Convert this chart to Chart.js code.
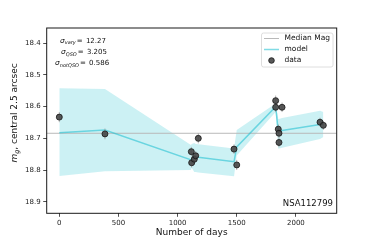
<!DOCTYPE html>
<html><head><meta charset="utf-8">
<script src="https://cdn.jsdelivr.net/npm/chart.js@4.4.1/dist/chart.umd.min.js"></script>
<style>html,body{margin:0;padding:0;background:#fff;}canvas{display:block;}</style>
</head><body>
<canvas id="c" width="374" height="240"></canvas>
<script>
// ---- data ----
const days   = [0, 386, 1116, 1119, 1141, 1153, 1175, 1477, 1500, 1829, 1829, 1883, 1851, 1857, 1857, 2204, 2232];
const mags   = [18.633, 18.686, 18.742, 18.777, 18.766, 18.755, 18.700, 18.734, 18.784, 18.581, 18.602, 18.602, 18.671, 18.684, 18.713, 18.649, 18.659];
const magErr = [0.016, 0.017, 0.015, 0.015, 0.015, 0.015, 0.016, 0.015, 0.016, 0.016, 0.015, 0.015, 0.015, 0.015, 0.015, 0.014, 0.014];

const modelDays = [0, 386, 1113, 1119, 1141, 1153, 1175, 1477, 1500, 1829, 1851, 1857, 1883, 2204, 2232];
const modelMag  = [18.682, 18.674, 18.768, 18.771, 18.756, 18.757, 18.760, 18.774, 18.727, 18.600, 18.678, 18.677, 18.675, 18.656, 18.656];
const bandLow   = [18.542, 18.544, 18.721, 18.718, 18.715, 18.718, 18.719, 18.732, 18.674, 18.590, 18.637, 18.639, 18.636, 18.613, 18.617];
const bandHigh  = [18.819, 18.804, 18.800, 18.793, 18.806, 18.806, 18.808, 18.820, 18.754, 18.617, 18.733, 18.733, 18.730, 18.702, 18.696];

const medianMag = 18.684;
const xTicks = [0, 500, 1000, 1500, 2000];
const yTicks = [18.4, 18.5, 18.6, 18.7, 18.8, 18.9];
const xRange = [-106.5, 2345];
const yRange = [18.3517, 18.9366];

const sigmaNames  = ['vary', 'QSO', 'notQSO'];
const sigmaValues = ['12.27', '3.205', '0.586'];
const objectName = 'NSA112799';
const legendLabels = ['Median Mag', 'model', 'data'];

// ---- styles ----
const FONT = "'DejaVu Sans'";
const bandColor = 'rgba(23,190,207,0.22)';
const modelColor = 'rgba(23,190,207,0.55)';
const medianColor = '#b9b9b9';
const pointFill = 'rgba(70,70,70,0.9)';
const pointEdge = '#151515';

const xy = (xs, ys) => xs.map((x, i) => ({x: x, y: ys[i]}));

const extras = {
  id: 'extras',
  beforeDatasetDraw(chart, args) {
    if (args.index !== 4) return;
    const {ctx, scales: {x, y}} = chart;
    ctx.save();
    ctx.strokeStyle = 'rgba(150,150,150,0.7)';
    ctx.lineWidth = 1;
    days.forEach((d, i) => {
      const px = x.getPixelForValue(d);
      ctx.beginPath();
      ctx.moveTo(px, y.getPixelForValue(mags[i] - magErr[i]));
      ctx.lineTo(px, y.getPixelForValue(mags[i] + magErr[i]));
      ctx.stroke();
    });
    ctx.restore();
  },
  afterDraw(chart) {
    const {ctx, chartArea: a} = chart;
    ctx.save();
    // spines
    ctx.strokeStyle = '#1a1a1a';
    ctx.lineWidth = 1;
    ctx.strokeRect(a.left, a.top, a.right - a.left, a.bottom - a.top);

    // sigma annotations
    ctx.fillStyle = '#111';
    ctx.textBaseline = 'alphabetic';
    const sx = [60, 61, 55];
    const sy = [42.5, 54, 65];
    sigmaNames.forEach((n, i) => {
      let x0 = sx[i];
      ctx.font = 'italic 7.5px ' + FONT;
      ctx.fillText('σ', x0, sy[i]);
      x0 += ctx.measureText('σ').width;
      ctx.font = 'italic 5px ' + FONT;
      ctx.fillText(n, x0, sy[i] + 1.8);
      x0 += ctx.measureText(n).width + 1;
      ctx.font = '7px ' + FONT;
      ctx.fillText('= ', x0, sy[i]);
      x0 += ctx.measureText('= ').width + 1;
      ctx.fillText(sigmaValues[i], x0, sy[i]);
    });

    // object name
    ctx.font = '8.5px ' + FONT;
    ctx.textAlign = 'right';
    ctx.fillText(objectName, 333, 206);

    // legend
    ctx.textAlign = 'left';
    ctx.fillStyle = 'rgba(255,255,255,0.85)';
    ctx.strokeStyle = '#d6d6d6';
    ctx.lineWidth = 0.8;
    ctx.beginPath();
    if (ctx.roundRect) ctx.roundRect(261.5, 33, 71.5, 34, 2); else ctx.rect(261.5, 33, 71.5, 34);
    ctx.fill(); ctx.stroke();
    const rows = [38.5, 49.5, 60.5];
    ctx.lineWidth = 1;
    ctx.strokeStyle = medianColor;
    ctx.beginPath(); ctx.moveTo(264, rows[0]); ctx.lineTo(279, rows[0]); ctx.stroke();
    ctx.strokeStyle = modelColor; ctx.lineWidth = 1.5;
    ctx.beginPath(); ctx.moveTo(264, rows[1]); ctx.lineTo(279, rows[1]); ctx.stroke();
    ctx.fillStyle = pointFill; ctx.strokeStyle = pointEdge; ctx.lineWidth = 0.8;
    ctx.beginPath(); ctx.arc(271.5, rows[2], 2.8, 0, Math.PI * 2); ctx.fill(); ctx.stroke();
    ctx.fillStyle = '#111';
    ctx.font = '7.5px ' + FONT;
    ctx.textBaseline = 'middle';
    legendLabels.forEach((t, i) => ctx.fillText(t, 284.5, rows[i]));

    // axis titles
    ctx.font = '9px ' + FONT;
    ctx.textAlign = 'center';
    ctx.fillText('Number of days', (a.left + a.right) / 2, 233);

    ctx.translate(15, 113);
    ctx.rotate(-Math.PI / 2);
    ctx.textAlign = 'left';
    const main = ', central 2.5 arcsec';
    ctx.font = 'italic 9px ' + FONT;
    const wm = ctx.measureText('m').width;
    ctx.font = 'italic 6.5px ' + FONT;
    const wg = ctx.measureText('g').width;
    ctx.font = '9px ' + FONT;
    const wr = ctx.measureText(main).width;
    let x0 = -(wm + wg + wr) / 2;
    ctx.font = 'italic 9px ' + FONT;
    ctx.fillText('m', x0, 0);
    x0 += wm;
    ctx.font = 'italic 6.5px ' + FONT;
    ctx.fillText('g', x0, 2.5);
    x0 += wg;
    ctx.font = '9px ' + FONT;
    ctx.fillText(main, x0, 0);
    ctx.restore();
  }
};

new Chart(document.getElementById('c'), {
  type: 'scatter',
  data: {
    datasets: [
      {data: xy(modelDays, bandLow), showLine: true, pointRadius: 0, borderWidth: 0, borderColor: 'rgba(0,0,0,0)', fill: false, order: 4},
      {data: xy(modelDays, bandHigh), showLine: true, pointRadius: 0, borderWidth: 0, borderColor: 'rgba(0,0,0,0)', fill: '-1', backgroundColor: bandColor, order: 3},
      {data: xy(xRange, [medianMag, medianMag]), showLine: true, pointRadius: 0, borderWidth: 1, borderColor: medianColor, order: 2},
      {data: xy(modelDays, modelMag), showLine: true, pointRadius: 0, borderWidth: 1.5, borderColor: modelColor, order: 1},
      {data: xy(days, mags), pointRadius: 3, pointBackgroundColor: pointFill, pointBorderColor: pointEdge, pointBorderWidth: 0.8, order: 0}
    ]
  },
  options: {
    responsive: false,
    animation: false,
    events: [],
    layout: {padding: {left: 0, right: 37.3, top: 28, bottom: 0}},
    plugins: {legend: {display: false}, tooltip: {enabled: false}},
    scales: {
      x: {
        type: 'linear', min: xRange[0], max: xRange[1],
        afterBuildTicks: s => { s.ticks = xTicks.map(v => ({value: v})); },
        afterFit: s => { s.height = 26.7; },
        border: {display: false},
        grid: {drawOnChartArea: false, drawTicks: true, tickLength: 3.5, color: '#222', lineWidth: 0.8},
        ticks: {padding: 2, color: '#222', font: {family: FONT, size: 7}, maxRotation: 0, callback: v => String(v)}
      },
      y: {
        type: 'linear', reverse: true, min: yRange[0], max: yRange[1],
        afterBuildTicks: s => { s.ticks = yTicks.map(v => ({value: v})); },
        afterFit: s => { s.width = 46.7; },
        border: {display: false},
        grid: {drawOnChartArea: false, drawTicks: true, tickLength: 3.5, color: '#222', lineWidth: 0.8},
        ticks: {padding: 2.5, color: '#222', font: {family: FONT, size: 7}, callback: v => v.toFixed(1)}
      }
    }
  },
  plugins: [extras]
});
</script>
</body></html>
